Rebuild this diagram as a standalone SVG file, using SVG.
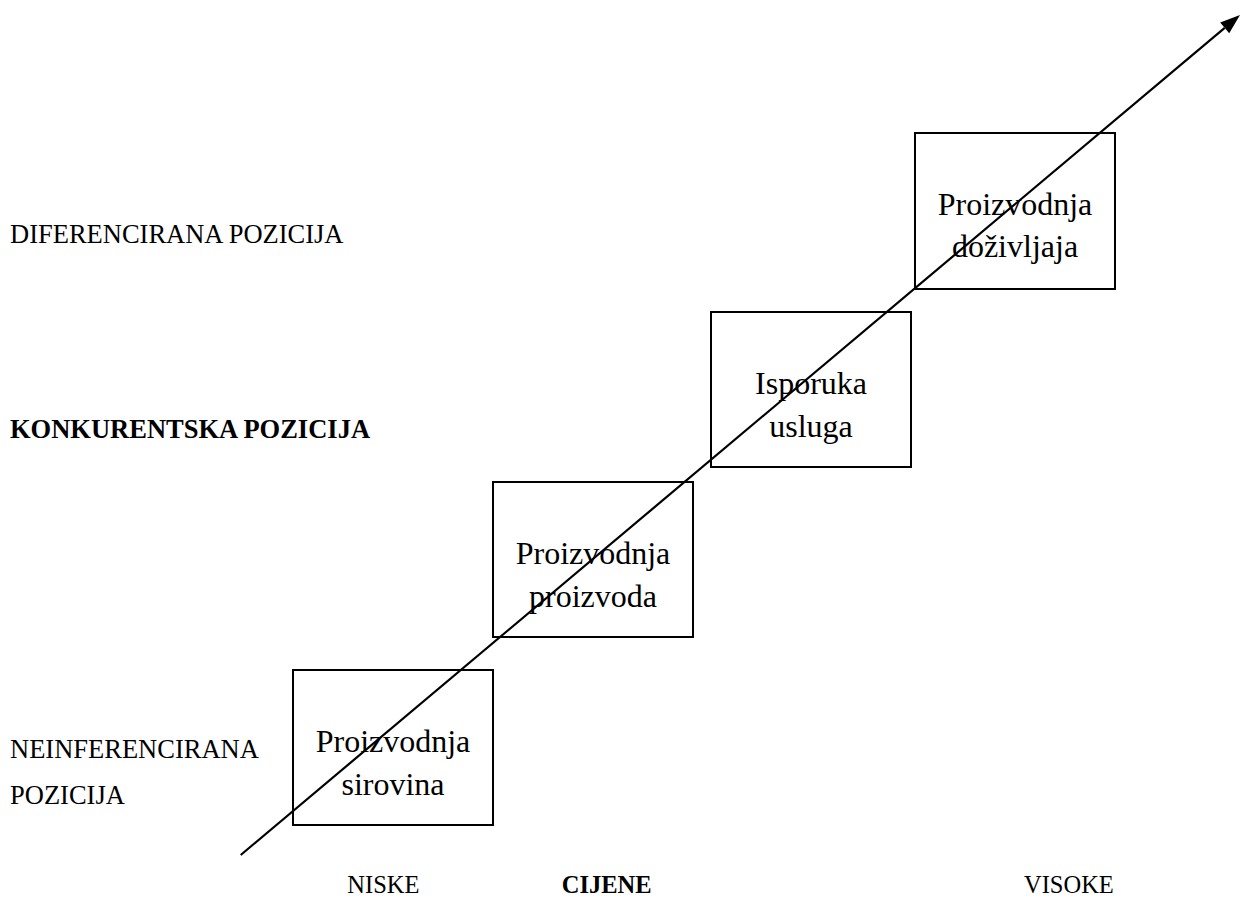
<svg xmlns="http://www.w3.org/2000/svg" width="1240" height="897" viewBox="0 0 1240 897">
<style>
  .box { fill: #ffffff; stroke: #000000; stroke-width: 2; }
  .bt { font-family: "Liberation Serif", "Times New Roman", serif; font-size: 32px; fill: #000; text-anchor: middle; }
  .lbl { font-family: "Liberation Serif", "Times New Roman", serif; font-size: 26.5px; fill: #000; }
  .ax { font-family: "Liberation Serif", "Times New Roman", serif; font-size: 24.5px; fill: #000; }
  .b { font-weight: bold; }
  .conn { stroke: #000; stroke-width: 2.2; fill: none; }
</style>
<defs>
  <marker id="arrow" markerUnits="userSpaceOnUse" markerWidth="20" markerHeight="14" refX="0" refY="7" orient="auto" overflow="visible">
    <path d="M0,0 L20,7 L0,14 z" fill="#000"/>
  </marker>
</defs>
<rect width="1240" height="897" fill="#ffffff"/>

<g id="labels">
  <text class="lbl" x="10" y="243.3">DIFERENCIRANA POZICIJA</text>
  <text class="lbl b" x="10" y="438.3">KONKURENTSKA POZICIJA</text>
  <text class="lbl" x="10" y="758.3">NEINFERENCIRANA</text>
  <text class="lbl" x="10" y="804">POZICIJA</text>
  <text class="ax" x="347.3" y="893.3">NISKE</text>
  <text class="ax b" x="561.7" y="893.3">CIJENE</text>
  <text class="ax" x="1024" y="893.3">VISOKE</text>
</g>

<g id="node-sirovina">
  <rect class="box" x="293" y="670" width="200" height="155"/>
  <text class="bt" x="393" y="752">Proizvodnja</text>
  <text class="bt" x="393" y="794.5">sirovina</text>
</g>

<g id="node-proizvoda">
  <rect class="box" x="493" y="482" width="200" height="155"/>
  <text class="bt" x="593" y="564">Proizvodnja</text>
  <text class="bt" x="593" y="606.5">proizvoda</text>
</g>

<g id="node-usluga">
  <rect class="box" x="711" y="312" width="200" height="155"/>
  <text class="bt" x="811" y="394">Isporuka</text>
  <text class="bt" x="811" y="436.5">usluga</text>
</g>

<g id="node-dozivljaja">
  <rect class="box" x="915" y="133" width="200" height="156"/>
  <text class="bt" x="1015" y="215">Proizvodnja</text>
  <text class="bt" x="1015" y="257">doživljaja</text>
</g>

<g id="connectors">
  <line class="conn" x1="240.7" y1="855" x2="1224.7" y2="27.9" marker-end="url(#arrow)"/>
</g>
</svg>
